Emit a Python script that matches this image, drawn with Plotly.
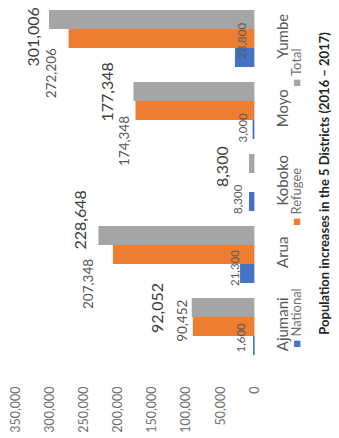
import plotly.graph_objects as go

# District populations, 2016-2017
districts = ["Ajumani", "Arua", "Koboko", "Moyo", "Yumbe"]
national = [1600, 21300, 8300, 3000, 28800]
refugee = [90452, 207348, 0, 174348, 272206]
total = [92052, 228648, 8300, 177348, 301006]

series_names = ["National", "Refugee", "Total"]
value_ticks = [0, 50000, 100000, 150000, 200000, 250000, 300000, 350000]
title_text = "Population increases in the 5 Districts (2016 – 2017)"

colors = {"National": "#4472C4", "Refugee": "#ED7D31", "Total": "#A5A5A5"}
series_values = {"National": national, "Refugee": refugee, "Total": total}

W, H = 339, 438
PLOT_RIGHT = 260      # pixel where the value axis starts (0)
PLOT_BOTTOM = 378
PX_PER_VALUE = 0.0006977
X_MAX = PLOT_RIGHT / PX_PER_VALUE

fig = go.Figure()
for name in series_names:
    fig.add_trace(go.Bar(
        y=districts, x=series_values[name], orientation="h", name=name,
        marker=dict(color=colors[name], line=dict(width=0)),
        showlegend=False, hoverinfo="skip",
    ))

fig.update_layout(
    width=W, height=H,
    margin=dict(l=0, r=0, t=0, b=0),
    paper_bgcolor="white", plot_bgcolor="white",
    barmode="group", bargap=0.21, bargroupgap=0,
    font=dict(family="Lato", color="#595959"),
    xaxis=dict(
        domain=[0, PLOT_RIGHT / W], range=[X_MAX, 0],
        tickvals=value_ticks, ticktext=[f"{v:,}" for v in value_ticks],
        tickangle=-90, tickfont=dict(size=12.5, color="#707070"),
        ticklabelstandoff=5,
        showgrid=False, zeroline=False, showline=False, ticks="",
    ),
    yaxis=dict(
        domain=[(H - PLOT_BOTTOM) / H, 1], range=[-0.715, 4.535],
        side="right", tickangle=-90, ticklabelstandoff=17,
        tickfont=dict(size=15, color="#595959"),
        showgrid=False, zeroline=False, showline=False, ticks="",
    ),
)

# value labels: pixel shifts from each bar end / bar centre
bar_offset = {"National": -0.263, "Refugee": 0.0, "Total": 0.263}
label_font = {"National": 11.5, "Refugee": 13.5, "Total": 16}
label_shift = {
    "Total": [(-35.8, 0.5), (-19, -15.5), (-28, 2.5), (-27, 0.5), (-16.5, 17.5)],
    "Refugee": [(-11, -5.5), (-25, 29.5), (0, 0), (-11.5, 30.5), (-17.5, 34.5)],
    "National": [(-13, -7.5), (-5, -5.5), (-11, -2.5), (-10, -1.5), (7, -16.5)],
}
for name in series_names:
    for i, v in enumerate(series_values[name]):
        if v == 0:
            continue
        dx, dy = label_shift[name][i]
        fig.add_annotation(
            x=v, y=i + bar_offset[name], xref="x", yref="y",
            text=f"{v:,}", textangle=-90, showarrow=False,
            xanchor="center", yanchor="middle",
            xshift=dx, yshift=-dy,
            font=dict(size=label_font[name],
                      color="#404040" if name == "Total" else "#595959"),
        )

# legend entries, drawn rotated like the rest of the chart
legend_centres = {"National": 318, "Refugee": 197, "Total": 68}
for name in series_names:
    fig.add_annotation(
        x=302 / W, y=1 - legend_centres[name] / H, xref="paper", yref="paper",
        text=f"<span style='color:{colors[name]}'>■</span> {name}",
        textangle=-90, showarrow=False, xanchor="center", yanchor="middle",
        font=dict(size=13, color="#707070"),
    )

fig.add_annotation(
    x=331 / W, y=1 - 183.5 / H, xref="paper", yref="paper",
    text=f"<b>{title_text}</b>", textangle=-90, showarrow=False,
    xanchor="center", yanchor="middle",
    font=dict(size=13, color="#262626"),
)

fig.write_html("out.html")
